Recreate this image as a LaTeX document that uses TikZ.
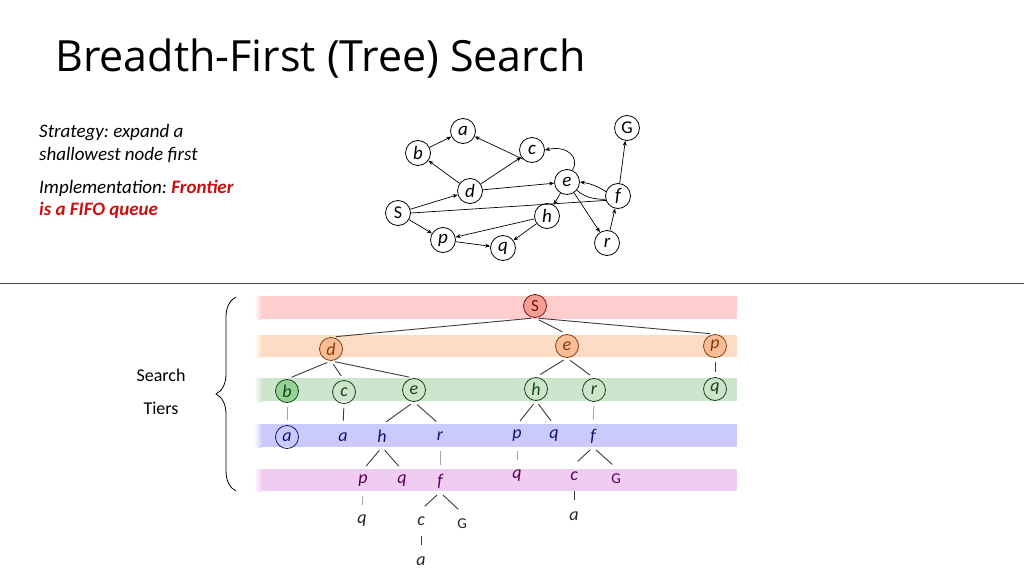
\documentclass[tikz,border=0pt]{standalone}
\usepackage{fontspec}
\setmainfont{Carlito}
\newfontfamily\titlefont{Open Sans}
\usetikzlibrary{arrows.meta,decorations.pathreplacing}
\definecolor{bandR}{RGB}{255,205,205}
\definecolor{bandO}{RGB}{252,220,196}
\definecolor{bandG}{RGB}{205,229,205}
\definecolor{bandB}{RGB}{202,202,252}
\definecolor{bandP}{RGB}{240,205,240}
\definecolor{fillS}{RGB}{244,158,148}
\definecolor{fillO}{RGB}{250,190,150}
\definecolor{fillGr}{RGB}{150,210,150}
\definecolor{txtR}{RGB}{110,20,20}
\definecolor{txtO}{RGB}{130,60,10}
\definecolor{txtG}{RGB}{20,70,20}
\definecolor{txtB}{RGB}{20,20,110}
\definecolor{txtP}{RGB}{90,0,90}
\definecolor{redtxt}{RGB}{200,16,16}
\definecolor{edgegray}{RGB}{60,60,60}
\frenchspacing
\begin{document}
\begin{tikzpicture}[x=1pt,y=-1pt,
  gnode/.style={circle,draw,line width=0.8pt,minimum size=25pt,inner sep=0pt,font=\fontsize{19}{19}\selectfont\itshape},
  garr/.style={line width=0.7pt,-{Stealth[length=5pt,width=4pt]}},
  gline/.style={line width=0.7pt},
  tcirc/.style={circle,draw,line width=0.8pt,minimum size=23pt,inner sep=0pt,font=\fontsize{18}{18}\selectfont\itshape},
  tlet/.style={circle,minimum size=22pt,inner sep=0pt,font=\fontsize{18}{18}\selectfont\itshape},
  tedge/.style={draw=edgegray,line width=0.9pt,shorten <=4pt,shorten >=5pt},
  tedgel/.style={draw=gray!70,line width=0.9pt,shorten <=4pt,shorten >=5pt},
  bodytxt/.style={anchor=base west,inner sep=0pt,font=\fontsize{19}{22}\selectfont\itshape}
]
\fill[white] (0,0) rectangle (1024,575);
\useasboundingbox (0,0) rectangle (1024,575);

% title
\node[anchor=base west,inner sep=0pt,font=\titlefont\fontsize{43}{48}\selectfont] (title) at (55,72) {Breadth-First (Tree) Search};

% left text
\node[bodytxt] (l1) at (39,137) {Strategy: expand a};
\node[bodytxt] (l2) at (39,160) {shallowest node first};
\node[bodytxt] (l3) at (39,193) {Implementation: \textcolor{redtxt}{\bfseries Frontier}};
\node[bodytxt,text=redtxt,font=\fontsize{19}{22}\selectfont\itshape\bfseries] (l4) at (39,215) {is a FIFO queue};

% graph
\node[gnode] (a) at (463,131) {a};
\node[gnode] (b) at (418,153) {b};
\node[gnode] (c) at (532,150) {c};
\node[gnode] (d) at (470,191) {d};
\node[gnode] (e) at (567,182) {e};
\node[gnode] (f) at (618,196) {f};
\node[gnode,font=\fontsize{18}{18}\selectfont] (G) at (627,128) {G};
\node[gnode,font=\fontsize{18}{18}\selectfont] (S) at (398,213) {S};
\node[gnode] (h) at (547,216) {h};
\node[gnode] (p) at (443,240) {p};
\node[gnode] (q) at (503,248) {q};
\node[gnode] (r) at (607,243) {r};

\draw[garr] (b) -- (a);
\draw[garr] (c.south west) -- (a);
\draw[garr] (d) -- (b);
\draw[garr] (d) -- (c);
\draw[garr] (d) -- (e);
\draw[garr] (S) -- (d);
\draw[garr] (S) -- (p);
\draw[garr] (e) -- (h);
\draw[garr] (e) -- (r);
\draw[garr] (h) -- (p);
\draw[garr] (h) -- (q);
\draw[garr] (p) -- (q);
\draw[garr] (r) -- (f);
\draw[garr] (f) -- (G);
\draw[garr] (e.65) .. controls (580,158) and (568,145) .. (c.east);
\draw[garr] (f.160) to[bend right=12] (e.east);
\draw[gline] (e.-40) .. controls (588,200) and (600,199) .. (f.195);
\draw[gline] (S.east) -- (f.200);

% separator
\draw[line width=0.9pt,draw=black!70] (0,283) -- (1024,283);

% bands
\fill[bandR] (256,296) rectangle (737,319);
\fill[bandO] (256,335) rectangle (737,357);
\fill[bandG] (256,378) rectangle (737,401);
\fill[bandB] (256,424) rectangle (737,447);
\fill[bandP] (256,469) rectangle (737,491);
\shade[left color=white,right color=bandR] (254,296) rectangle (262,319);
\shade[left color=white,right color=bandO] (254,335) rectangle (262,357);
\shade[left color=white,right color=bandG] (254,378) rectangle (262,401);
\shade[left color=white,right color=bandB] (254,424) rectangle (262,447);
\shade[left color=white,right color=bandP] (254,469) rectangle (262,491);

% brace and label
\draw[line width=0.8pt,decorate,decoration={brace,amplitude=20pt}] (236,491) -- (236,297);
\node[font=\fontsize{18}{18}\selectfont] (search) at (161,375) {Search};
\node[font=\fontsize{18}{18}\selectfont] (tiers) at (161,408) {Tiers};

% tree nodes
\node[tcirc,fill=fillS,draw=txtR,text=txtR,font=\fontsize{17}{17}\selectfont] (tS) at (535,306) {S};
\node[tcirc,fill=fillO,draw=txtO,text=txtO] (td) at (331,349) {d};
\node[tcirc,fill=fillO,draw=txtO,text=txtO] (te1) at (567,346) {e};
\node[tcirc,fill=fillO,draw=txtO,text=txtO] (tp1) at (715,346) {p};
\node[tcirc,fill=fillGr,draw=txtG,text=txtG] (tb) at (287,391) {b};
\node[tcirc,draw=txtG,text=txtG] (tc) at (344,392) {c};
\node[tcirc,draw=txtG,text=txtG] (te2) at (414,390) {e};
\node[tcirc,draw=txtG,text=txtG] (th1) at (536,389) {h};
\node[tcirc,draw=txtG,text=txtG] (tr1) at (594,390) {r};
\node[tcirc,draw=txtG,text=txtG] (tq1) at (715,389) {q};
\node[tcirc,draw=txtB,text=txtB] (ta1) at (287,437) {a};
\node[tlet,text=txtB] (ta2) at (343,437) {a};
\node[tlet,text=txtB] (th2) at (382,436) {h};
\node[tlet,text=txtB] (tr2) at (440,436) {r};
\node[tlet,text=txtB] (tp2) at (517,436) {p};
\node[tlet,text=txtB] (tq2) at (554,436) {q};
\node[tlet,text=txtB] (tf1) at (593,436) {f};
\node[tlet,text=txtP] (tp3) at (363,481) {p};
\node[tlet,text=txtP] (tq3) at (402,481) {q};
\node[tlet,text=txtP] (tf2) at (440,481) {f};
\node[tlet,text=txtP] (tq4) at (517,476) {q};
\node[tlet,text=txtP] (tc2) at (574,476) {c};
\node[tlet,text=txtP,font=\fontsize{15}{15}\selectfont] (tG1) at (616,479) {G};
\node[tlet,text=black!85] (tq5) at (362,521) {q};
\node[tlet,text=black!85] (tc3) at (421,521) {c};
\node[tlet,text=black!85,font=\fontsize{15}{15}\selectfont] (tG2) at (462,524) {G};
\node[tlet,text=black!85] (ta3) at (574,516) {a};
\node[tlet,text=black!85] (ta4) at (421,561) {a};

% tree edges
\draw[tedge] (tS.south) -- (td.north);
\draw[tedge] (tS.south) -- (te1.north);
\draw[tedge] (tS.south) -- (tp1.north);
\draw[tedge] (td.south) -- (tb.north);
\draw[tedge] (td.south) -- (tc.north);
\draw[tedge] (td.south) -- (te2.north);
\draw[tedge] (te1.south) -- (th1.north);
\draw[tedge] (te1.south) -- (tr1.north);
\draw[tedge] (tp1.south) -- (tq1.north);
\draw[tedgel] (tb.south) -- (ta1.north);
\draw[tedge] (tc.south) -- (ta2.north);
\draw[tedge] (te2.south) -- (th2.north);
\draw[tedge] (te2.south) -- (tr2.north);
\draw[tedge] (th1.south) -- (tp2.north);
\draw[tedge] (th1.south) -- (tq2.north);
\draw[tedgel] (tr1.south) -- (tf1.north);
\draw[tedge] (th2.south) -- (tp3.north);
\draw[tedge] (th2.south) -- (tq3.north);
\draw[tedgel] (tr2.south) -- (tf2.north);
\draw[tedgel] (tp2.south) -- (tq4.north);
\draw[tedge] (tf1.south) -- (tc2.north);
\draw[tedge] (tf1.south) -- (tG1.north);
\draw[tedgel] (tp3.south) -- (tq5.north);
\draw[tedge] (tf2.south) -- (tc3.north);
\draw[tedge] (tf2.south) -- (tG2.north);
\draw[tedge] (tc2.south) -- (ta3.north);
\draw[tedge] (tc3.south) -- (ta4.north);
\end{tikzpicture}
\end{document}
